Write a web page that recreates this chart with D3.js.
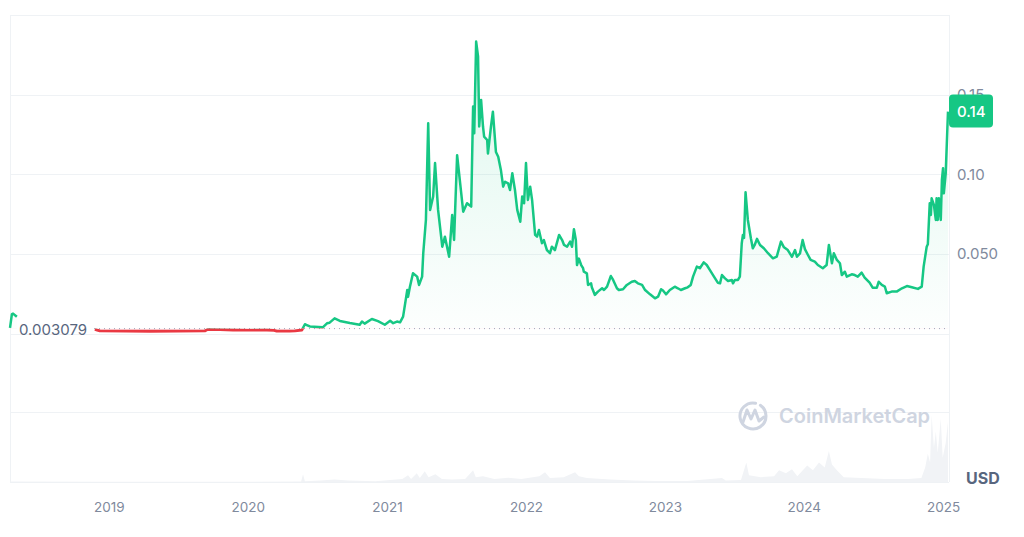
<!DOCTYPE html>
<html>
<head>
<meta charset="utf-8">
<script src="https://cdn.jsdelivr.net/npm/d3@7"></script>
<style>
html, body { margin: 0; padding: 0; background: #fff; }
svg { display: block; font-family: Inter, "Noto Sans", sans-serif; }
</style>
</head>
<body>
<svg id="chart" width="1024" height="537"></svg>
<script>
// price series (USD), null = no data
var priceDates = [
  '2018-04-16','2018-04-21','2018-04-24','2018-05-04','2018-05-10',
  '2018-11-25','2018-12-08','2019-02-15','2019-04-19','2019-07-01','2019-09-10','2019-09-18','2019-10-20','2019-11-23',
  '2020-01-01','2020-02-20','2020-03-10','2020-03-17','2020-04-20','2020-05-04','2020-05-22','2020-05-30','2020-06-04',
  '2020-06-12','2020-07-16','2020-07-27','2020-08-03','2020-08-16','2020-08-30','2020-09-25','2020-10-21','2020-10-27',
  '2020-11-03','2020-11-22','2020-12-08','2020-12-26',
  '2021-01-09','2021-01-17','2021-01-27','2021-02-04','2021-02-12','2021-02-23','2021-02-25','2021-03-02','2021-03-10',
  '2021-03-21','2021-03-26','2021-04-03','2021-04-06','2021-04-13','2021-04-19','2021-04-24','2021-05-02','2021-05-07',
  '2021-05-15','2021-05-26','2021-06-02','2021-06-13','2021-06-21','2021-06-26','2021-07-04','2021-07-12','2021-07-20',
  '2021-07-30','2021-08-10','2021-08-15','2021-08-18','2021-08-23','2021-08-28','2021-08-31','2021-09-05','2021-09-10',
  '2021-09-13','2021-09-21','2021-09-23','2021-10-01','2021-10-06','2021-10-14','2021-10-20','2021-10-27','2021-11-02',
  '2021-11-07','2021-11-15','2021-11-20','2021-11-26','2021-12-03','2021-12-09','2021-12-17','2021-12-22','2021-12-27',
  '2022-01-01','2022-01-06','2022-01-12','2022-01-17','2022-01-25','2022-01-30','2022-02-04','2022-02-12','2022-02-17',
  '2022-02-25','2022-03-05','2022-03-10','2022-03-18','2022-03-29','2022-04-06','2022-04-11','2022-04-19','2022-04-27',
  '2022-05-02','2022-05-07','2022-05-12','2022-05-15','2022-05-20','2022-05-26','2022-05-31','2022-06-02','2022-06-10',
  '2022-06-13','2022-06-21','2022-06-23','2022-07-01','2022-07-09','2022-07-20','2022-07-25','2022-08-02','2022-08-12',
  '2022-08-18','2022-08-28','2022-09-02','2022-09-13','2022-09-23','2022-10-06','2022-10-14','2022-10-22','2022-11-02',
  '2022-11-10','2022-11-23','2022-12-06','2022-12-14','2022-12-22','2022-12-27',
  '2023-01-04','2023-01-14','2023-01-27','2023-02-04','2023-02-12','2023-02-23','2023-03-02','2023-03-10','2023-03-16',
  '2023-03-26','2023-04-03','2023-04-13','2023-04-21','2023-04-29','2023-05-10','2023-05-20','2023-05-26','2023-05-31',
  '2023-06-08','2023-06-16','2023-06-26','2023-06-29','2023-07-04','2023-07-12','2023-07-17','2023-07-22','2023-07-25',
  '2023-07-28','2023-08-01','2023-08-07','2023-08-15','2023-08-20','2023-08-25','2023-08-31','2023-09-08','2023-09-18',
  '2023-09-29','2023-10-12','2023-10-22','2023-11-02','2023-11-10','2023-11-20','2023-12-01','2023-12-09','2023-12-14',
  '2023-12-22','2023-12-29',
  '2024-01-04','2024-01-12','2024-01-19','2024-01-30','2024-02-07','2024-02-20','2024-03-01','2024-03-07','2024-03-15',
  '2024-03-20','2024-03-28','2024-04-05','2024-04-10','2024-04-18','2024-04-23','2024-05-06','2024-05-14','2024-05-22',
  '2024-06-01','2024-06-09','2024-06-22','2024-06-30','2024-07-11','2024-07-16','2024-07-24','2024-08-01','2024-08-06',
  '2024-08-19','2024-09-01','2024-09-15','2024-09-28','2024-10-11','2024-10-27','2024-11-06','2024-11-11','2024-11-19',
  '2024-11-22','2024-11-27','2024-11-30','2024-12-02','2024-12-08','2024-12-13','2024-12-15','2024-12-18','2024-12-21',
  '2024-12-26','2024-12-29','2025-01-01','2025-01-03','2025-01-08','2025-01-14'
];
var priceValues = [
  0.0035, 0.0122, 0.0125, 0.0105, null,
  0.0026, 0.0016, 0.0015, 0.0014, 0.0015, 0.0016, 0.0026, 0.0024, 0.0022,
  0.0021, 0.0022, 0.0020, 0.0015, 0.0015, 0.0016, 0.0022, 0.0058, 0.0053,
  0.0044, 0.0039, 0.0064, 0.0068, 0.0095, 0.0079, 0.0066, 0.0055, 0.0075,
  0.0062, 0.0091, 0.0078, 0.0055,
  0.0080, 0.0065, 0.0075, 0.0070, 0.0106, 0.0273, 0.0230, 0.0294, 0.0378,
  0.0357, 0.0305, 0.0357, 0.0504, 0.0713, 0.1320, 0.0776, 0.0860, 0.1070,
  0.0776, 0.0545, 0.0608, 0.0482, 0.0744, 0.0587, 0.1120, 0.0943, 0.0765,
  0.0818, 0.0797, 0.1425, 0.1258, 0.1833, 0.1740, 0.1300, 0.1467, 0.1300,
  0.1236, 0.1215, 0.1130, 0.1300, 0.1393, 0.1140, 0.1110, 0.1027, 0.0922,
  0.0953, 0.0943, 0.0901, 0.1006, 0.0901, 0.0776, 0.0702, 0.0860, 0.0818,
  0.1070, 0.0839, 0.0922, 0.0839, 0.0619, 0.0608, 0.0650, 0.0567, 0.0587,
  0.0524, 0.0504, 0.0545, 0.0524, 0.0619, 0.0587, 0.0556, 0.0545, 0.0577,
  0.0545, 0.0655, 0.0587, 0.0430, 0.0470, 0.0430, 0.0410, 0.0388, 0.0378,
  0.0305, 0.0315, 0.0290, 0.0242, 0.0263, 0.0284, 0.0273, 0.0294, 0.0361,
  0.0336, 0.0284, 0.0273, 0.0278, 0.0305, 0.0325, 0.0330, 0.0315, 0.0305,
  0.0273, 0.0246, 0.0221, 0.0231, 0.0278, 0.0270,
  0.0246, 0.0273, 0.0294, 0.0284, 0.0273, 0.0284, 0.0290, 0.0305, 0.0357,
  0.0420, 0.0410, 0.0447, 0.0430, 0.0399, 0.0357, 0.0319, 0.0315, 0.0367,
  0.0346, 0.0330, 0.0336, 0.0315, 0.0336, 0.0336, 0.0357, 0.0567, 0.0619,
  0.0600, 0.0887, 0.0713, 0.0598, 0.0535, 0.0556, 0.0594, 0.0556, 0.0535,
  0.0504, 0.0472, 0.0483, 0.0577, 0.0541, 0.0524, 0.0482, 0.0524, 0.0482,
  0.0503, 0.0587,
  0.0530, 0.0493, 0.0462, 0.0451, 0.0430, 0.0410, 0.0430, 0.0556, 0.0441,
  0.0504, 0.0462, 0.0441, 0.0367, 0.0388, 0.0357, 0.0372, 0.0367, 0.0357,
  0.0382, 0.0351, 0.0319, 0.0288, 0.0288, 0.0325, 0.0305, 0.0295, 0.0253,
  0.0263, 0.0263, 0.0284, 0.0298, 0.0290, 0.0280, 0.0294, 0.0420, 0.0545,
  0.0560, 0.0818, 0.0744, 0.0849, 0.0807, 0.0713, 0.0849, 0.0713, 0.0849,
  0.0713, 0.0964, 0.1038, 0.0880, 0.1006, 0.1393
];

// volume (million USD)
var volumeDates = [
  '2018-04-16','2018-11-25','2019-06-01','2020-01-01','2020-05-20','2020-05-25','2020-05-30','2020-07-10','2020-08-16',
  '2020-09-20','2020-12-01','2021-02-10','2021-02-25','2021-03-05','2021-03-20','2021-03-28','2021-04-10','2021-04-20',
  '2021-05-08','2021-05-25','2021-06-20','2021-07-25','2021-08-15','2021-08-22','2021-09-10','2021-10-10','2021-11-15',
  '2021-12-20','2022-02-05','2022-02-20','2022-03-05','2022-04-10','2022-05-10','2022-05-20','2022-06-10','2022-08-10',
  '2022-10-10','2022-12-10','2023-03-01','2023-05-31','2023-06-10','2023-07-20','2023-07-30','2023-08-03','2023-08-10',
  '2023-09-10','2023-10-15','2023-10-28','2023-11-15','2023-12-01','2023-12-15','2024-01-10','2024-01-25','2024-02-10',
  '2024-02-25','2024-03-07','2024-03-15','2024-03-28','2024-04-15','2024-06-01','2024-08-01','2024-10-01','2024-11-05',
  '2024-11-15','2024-11-22','2024-11-28','2024-12-02','2024-12-08','2024-12-13','2024-12-18','2024-12-26','2024-12-31',
  '2025-01-08','2025-01-14'
];
var volumeValues = [
  5, 3, 3, 3, 5, 80, 8, 15, 25,
  15, 8, 30, 70, 30, 90, 40, 110, 50,
  80, 30, 25, 30, 120, 50, 60, 30, 45,
  30, 60, 100, 40, 50, 100, 60, 40, 25,
  15, 10, 10, 40, 15, 20, 150, 200, 70,
  50, 60, 120, 90, 130, 60, 170, 120, 200,
  150, 320, 180, 120, 50, 40, 30, 30, 40,
  150, 290, 200, 690, 350, 520, 300, 650, 250,
  400, 620
];

var yearTicks = ['2019-01-01','2020-01-01','2021-01-01','2022-01-01','2023-01-01','2024-01-01','2025-01-01'];
var yearLabels = ['2019','2020','2021','2022','2023','2024','2025'];
var priceTicks = [0.05, 0.10, 0.15];
var priceTickLabels = ['0.050', '0.10', '0.15'];
var baseValue = 0.003079;
var baseLabel = '0.003079';
var lastLabel = '0.14';

function draw() {
  var green = '#16c784', red = '#ea3943', grid = '#eff2f5', tickColor = '#808a9d';
  var plotLeft = 10, plotRight = 949, plotTop = 15, priceBottom = 333.5, volTop = 412, volBottom = 482;

  var parse = d3.timeParse('%Y-%m-%d');
  var prices = priceDates.map(function(d, i) { return { date: parse(d), value: priceValues[i] }; });
  var volumes = volumeDates.map(function(d, i) { return { date: parse(d), value: volumeValues[i] }; });

  var x = d3.scaleTime()
    .domain([parse('2018-04-16'), parse('2025-01-14')])
    .range([plotLeft, plotRight - 1]);
  var y = d3.scaleLinear().domain([0, 0.2]).range([priceBottom, plotTop]);
  var yVol = d3.scaleLinear().domain([0, 720]).range([volBottom, volTop]);
  var yBase = y(baseValue);

  var svg = d3.select('#chart');
  var defs = svg.append('defs');

  defs.append('clipPath').attr('id', 'above')
    .append('rect').attr('x', 0).attr('y', 0).attr('width', 1024).attr('height', yBase);
  defs.append('clipPath').attr('id', 'below')
    .append('rect').attr('x', 0).attr('y', yBase).attr('width', 1024).attr('height', 537 - yBase);

  var gGreen = defs.append('linearGradient').attr('id', 'gradGreen')
    .attr('gradientUnits', 'userSpaceOnUse').attr('x1', 0).attr('x2', 0).attr('y1', plotTop).attr('y2', yBase);
  gGreen.append('stop').attr('offset', 0).attr('stop-color', green).attr('stop-opacity', 0.16);
  gGreen.append('stop').attr('offset', 1).attr('stop-color', green).attr('stop-opacity', 0.01);

  // grid + frame
  var gridYs = [plotTop, y(0.15), y(0.10), y(0.05), priceBottom, volTop, volBottom];
  svg.append('g').selectAll('line').data(gridYs).enter().append('line')
    .attr('x1', plotLeft).attr('x2', plotRight)
    .attr('y1', function(d) { return Math.round(d) + 0.5; })
    .attr('y2', function(d) { return Math.round(d) + 0.5; })
    .attr('stroke', grid).attr('stroke-width', 1);
  svg.append('line').attr('x1', plotLeft + 0.5).attr('x2', plotLeft + 0.5).attr('y1', plotTop).attr('y2', volBottom)
    .attr('stroke', grid);
  svg.append('line').attr('x1', plotRight + 0.5).attr('x2', plotRight + 0.5).attr('y1', plotTop).attr('y2', volBottom)
    .attr('stroke', grid);

  // volume
  svg.append('path').datum(volumes)
    .attr('d', d3.area()
      .x(function(d) { return x(d.date); })
      .y0(volBottom)
      .y1(function(d) { return yVol(d.value); }))
    .attr('fill', '#f1f3f6');

  // watermark
  var wm = svg.append('g').attr('fill', 'none').attr('stroke', '#cfd5e1').attr('stroke-width', 3)
    .attr('stroke-linecap', 'round').attr('stroke-linejoin', 'round');
  wm.append('path').attr('d', d3.arc()({ innerRadius: 13, outerRadius: 13, startAngle: 0.6, endAngle: 2 * Math.PI + 0.2 }))
    .attr('transform', 'translate(753,416)');
  wm.append('path').attr('d', 'M743,422 L747,410 L751,419 L755,410 L759,421 L764,417');
  svg.append('text').attr('x', 779).attr('y', 423).text('CoinMarketCap')
    .attr('fill', '#cfd5e1').attr('font-size', 20).attr('font-weight', 600);

  // price areas
  var defined = function(d) { return d.value != null; };
  var area = d3.area().defined(defined)
    .x(function(d) { return x(d.date); })
    .y0(yBase)
    .y1(function(d) { return y(d.value); });
  svg.append('path').datum(prices).attr('d', area)
    .attr('fill', 'url(#gradGreen)').attr('clip-path', 'url(#above)');
  svg.append('path').datum(prices).attr('d', area)
    .attr('fill', red).attr('fill-opacity', 0.12).attr('clip-path', 'url(#below)');

  // baseline
  svg.append('line').attr('x1', 94).attr('x2', plotRight).attr('y1', yBase).attr('y2', yBase)
    .attr('stroke', '#a1a7bb').attr('stroke-width', 1).attr('stroke-dasharray', '1,4');

  // price line
  var line = d3.line().defined(defined)
    .x(function(d) { return x(d.date); })
    .y(function(d) { return y(d.value); });
  svg.append('path').datum(prices).attr('d', line)
    .attr('fill', 'none').attr('stroke', green).attr('stroke-width', 2.5)
    .attr('stroke-linejoin', 'round').attr('clip-path', 'url(#above)');
  svg.append('path').datum(prices).attr('d', line)
    .attr('fill', 'none').attr('stroke', red).attr('stroke-width', 2.8)
    .attr('stroke-linejoin', 'round').attr('clip-path', 'url(#below)');

  // baseline label
  svg.append('text').attr('x', 19).attr('y', yBase + 1.5).attr('dy', '0.35em')
    .attr('fill', '#58667e').attr('font-size', 15).text(baseLabel);

  // y axis (right)
  var yAxis = d3.axisRight(y).tickValues(priceTicks).tickSize(0).tickPadding(8)
    .tickFormat(function(d, i) { return priceTickLabels[i]; });
  var gy = svg.append('g').attr('transform', 'translate(' + plotRight + ',0)').call(yAxis);
  gy.select('.domain').remove();
  gy.selectAll('text').attr('fill', tickColor).attr('font-size', 15).attr('font-family', 'Inter, sans-serif');

  // x axis
  var xAxis = d3.axisBottom(x).tickValues(yearTicks.map(parse)).tickSize(0).tickPadding(0)
    .tickFormat(function(d, i) { return yearLabels[i]; });
  var gx = svg.append('g').attr('transform', 'translate(0,502)').call(xAxis);
  gx.select('.domain').remove();
  gx.selectAll('text').attr('fill', tickColor).attr('font-size', 13.5).attr('font-family', 'Inter, sans-serif');

  // current price tag
  var tagY = y(0.14);
  svg.append('rect').attr('x', plotRight).attr('y', tagY - 16).attr('width', 44).attr('height', 33)
    .attr('rx', 4).attr('fill', green);
  svg.append('text').attr('x', plotRight + 8).attr('y', tagY + 1.5).attr('dy', '0.35em')
    .attr('fill', '#fff').attr('font-size', 15).attr('font-weight', 500).text(lastLabel);

  // currency
  svg.append('text').attr('x', 966).attr('y', 478).attr('dy', '0.35em')
    .attr('fill', '#58667e').attr('font-size', 16).attr('font-weight', 700).text('USD');
}

draw();
</script>
</body>
</html>
